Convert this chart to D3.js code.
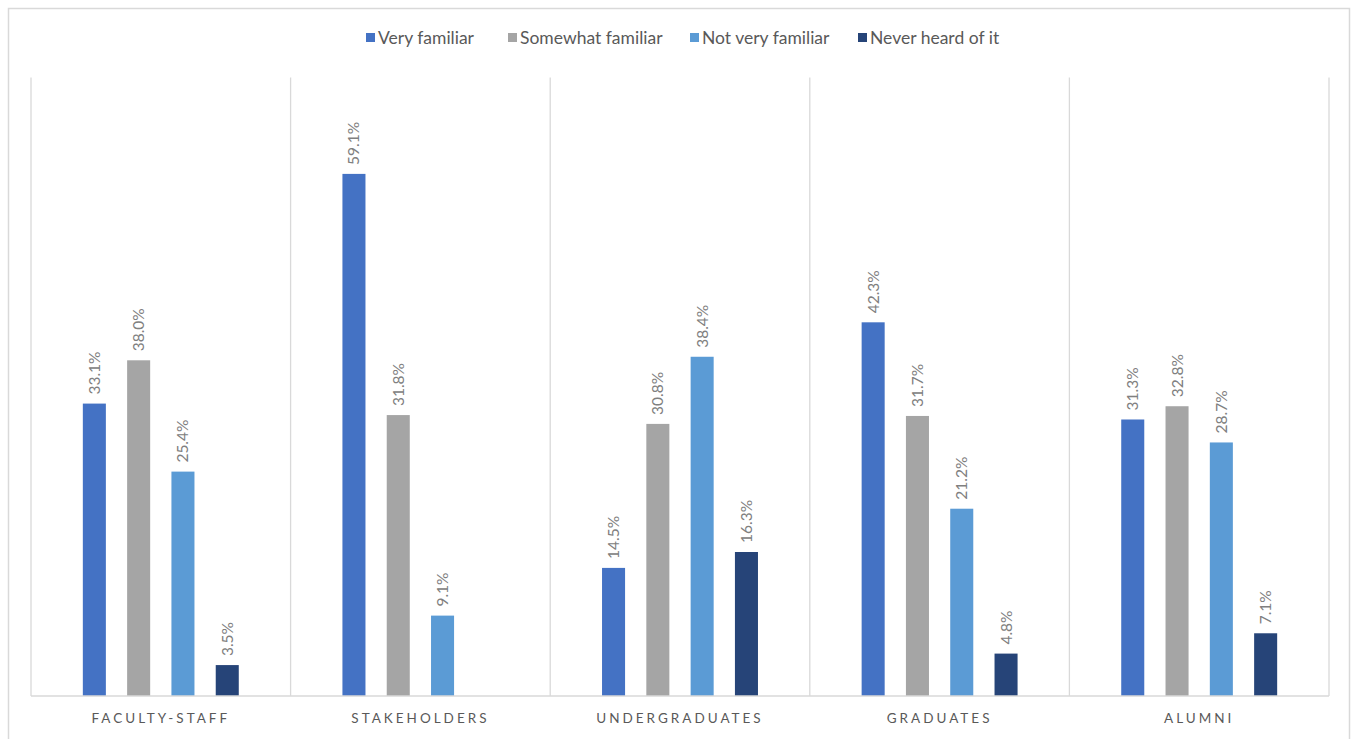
<!DOCTYPE html>
<html><head><meta charset="utf-8">
<script src="https://cdn.jsdelivr.net/npm/d3@7"></script>
<style>body{margin:0;background:#fff}svg{display:block}text{font-family:Lato,"Open Sans",sans-serif}</style>
</head><body><svg id="c" width="1353" height="739"></svg>
<script>
const categories = ["FACULTY-STAFF","STAKEHOLDERS","UNDERGRADUATES","GRADUATES","ALUMNI"];
const seriesNames = ["Very familiar","Somewhat familiar","Not very familiar","Never heard of it"];
const veryFamiliar = [33.1,59.1,14.5,42.3,31.3];
const somewhatFamiliar = [38.0,31.8,30.8,31.7,32.8];
const notVeryFamiliar = [25.4,9.1,38.4,21.2,28.7];
const neverHeard = [3.5,null,16.3,4.8,7.1];
const colors = ["#4472C4","#A5A5A5","#5B9BD5","#264478"];
const series = [veryFamiliar,somewhatFamiliar,notVeryFamiliar,neverHeard];

const svg = d3.select("#c");
svg.append("rect").attr("x",8.5).attr("y",8.5).attr("width",1341).attr("height",740)
  .attr("fill","#fff").attr("stroke","#d9d9d9").attr("stroke-width",1.5);

const L=31,R=1329,T=77.6,B=696;
const x = d3.scaleBand().domain(categories).range([L,R]).paddingInner(0).paddingOuter(0);
const xs = d3.scaleBand().domain(d3.range(4)).range([0,x.bandwidth()]).paddingInner(0.48).paddingOuter(1.17);
const y = d3.scaleLinear().domain([0,70]).range([B,T]);

// separators
const seps = categories.map(c=>x(c)).concat([R]);
svg.selectAll("line.sep").data(seps).enter().append("line")
  .attr("x1",d=>d).attr("x2",d=>d).attr("y1",T).attr("y2",B)
  .attr("stroke","#d9d9d9").attr("stroke-width",1.3);

const g = svg.append("g");
categories.forEach((c,ci)=>{
  series.forEach((s,si)=>{
    const v=s[ci];
    if(v==null) return;
    const bx = x(c)+xs(si);
    g.append("rect").attr("x",bx).attr("y",y(v)).attr("width",xs.bandwidth()).attr("height",B-y(v)).attr("fill",colors[si]);
    const cx = bx+xs.bandwidth()/2, ty=y(v)-9;
    g.append("text").attr("transform",`translate(${cx+5.5},${ty}) rotate(-90)`)
      .attr("text-anchor","start").attr("fill","#808080").attr("font-size",15.5)
      .text(v.toFixed(1)+"%");
  });
});

// axis
svg.append("line").attr("x1",L).attr("x2",R).attr("y1",B).attr("y2",B).attr("stroke","#d9d9d9").attr("stroke-width",1.5);
const ax = svg.append("g").attr("transform",`translate(0,${B})`).call(d3.axisBottom(x).tickSize(0).tickPadding(17));
ax.select(".domain").remove();
ax.selectAll("text").attr("font-family","Lato,'Open Sans',sans-serif").attr("font-size",13.5).attr("fill","#595959").attr("letter-spacing","3px");

// legend
const lx=[366,508,690,858];
const lg = svg.append("g");
seriesNames.forEach((n,i)=>{
  lg.append("rect").attr("x",lx[i]).attr("y",33).attr("width",9).attr("height",9).attr("fill",colors[i]);
  lg.append("text").attr("x",lx[i]+12).attr("y",43.5).attr("font-size",17.5).attr("fill","#595959").text(n);
});
</script></body></html>
